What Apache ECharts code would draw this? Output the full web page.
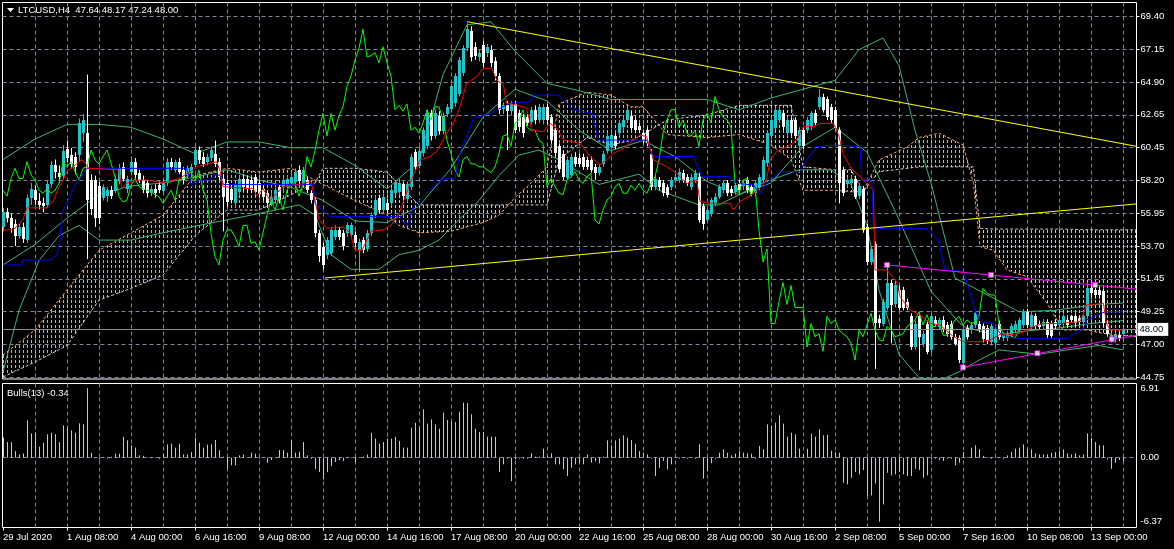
<!DOCTYPE html>
<html><head><meta charset="utf-8">
<script src="https://cdn.jsdelivr.net/npm/echarts@6/dist/echarts.min.js"></script>
<style>html,body{margin:0;padding:0;background:#000;}#c{width:1174px;height:549px;}</style>
</head><body><div id="c"></div>
<script>
// ---------------- DATA ----------------
const symbolName = 'LTCUSD,H4';
const bullsPeriod = 13;
const timeLabelBars = [0,16,32,48,64,80,96,112,128,144,160,176,192,208,224,240,256,272];
const timeLabels = ['29 Jul 2020','1 Aug 08:00','4 Aug 00:00','6 Aug 16:00','9 Aug 08:00','12 Aug 00:00','14 Aug 16:00','17 Aug 08:00','20 Aug 00:00','22 Aug 16:00','25 Aug 08:00','28 Aug 00:00','30 Aug 16:00','2 Sep 08:00','5 Sep 00:00','7 Sep 16:00','10 Sep 08:00','13 Sep 00:00'];
const priceTicks = [44.75,47.00,49.25,51.45,53.70,55.95,58.20,60.45,62.65,64.90,67.15,69.40];
const bullsTicks = [6.91,0.00,-6.37];
// [open, high, low, close] per H4 bar
const ohlc = [
[55.0,56.3,54.7,56.0],[56.0,56.3,55.3,55.6],[55.6,55.9,54.6,54.9],[55.2,55.5,53.7,54.4],[54.4,55.2,54.2,55.0],[55.0,55.3,53.9,54.2],[54.1,57.2,53.9,57.0],[57.0,58.0,56.5,57.6],[57.5,57.8,56.5,56.8],[56.8,57.3,56.2,56.5],
[56.6,57.0,56.0,56.4],[56.5,58.2,56.3,57.9],[57.9,59.5,57.7,59.2],[59.2,59.6,58.3,58.7],[58.7,59.2,58.0,58.4],[58.5,60.6,58.2,60.2],[60.3,60.9,59.4,59.7],[59.9,60.4,59.0,59.3],[59.8,60.1,58.6,59.1],[59.9,62.4,59.5,62.1],
[61.4,62.7,60.8,62.3],[61.4,65.4,52.8,56.8],[58.2,58.6,55.8,56.2],[58.2,58.5,55.0,55.6],[57.8,58.1,55.2,55.6],[57.0,57.9,56.8,57.75],[57.1,57.7,56.7,57.5],[57.5,57.8,56.9,57.1],[57.5,58.5,57.3,58.3],[58.1,59.3,57.9,59.0],
[59.1,59.4,58.1,58.3],[57.6,58.5,57.3,58.3],[58.8,59.8,58.5,59.45],[59.45,59.7,58.3,58.55],[58.7,58.9,58.0,58.2],[58.2,58.5,57.3,57.5],[58.0,58.2,57.0,57.3],[57.3,57.8,57.1,57.6],[57.6,57.9,57.0,57.3],[57.85,58.1,57.3,57.5],
[57.4,58.2,57.2,57.97],[58.0,59.7,57.8,59.45],[59.45,59.7,58.9,59.1],[58.9,59.6,58.7,59.45],[59.45,59.7,58.6,58.8],[58.9,59.1,57.9,58.2],[58.55,59.2,58.3,59.0],[58.66,59.3,58.4,59.1],[59.2,60.5,59.0,60.25],[60.25,60.5,59.3,59.57],
[59.8,60.1,59.1,59.3],[59.45,60.0,59.2,59.8],[59.7,60.5,59.5,60.25],[60.0,60.9,59.1,59.35],[59.45,59.7,58.2,58.43],[58.3,58.6,54.7,57.06],[57.97,58.2,56.4,56.7],[57.6,57.9,56.6,56.84],[56.6,58.0,56.3,57.85],[57.4,58.5,57.2,58.3],
[58.3,58.6,57.5,57.75],[58.3,58.5,57.3,57.6],[58.2,58.4,57.3,57.5],[58.4,58.6,57.1,57.4],[57.97,58.2,57.0,57.2],[57.6,57.8,56.8,57.06],[57.3,57.5,56.3,56.6],[56.6,57.3,56.4,57.06],[56.84,57.8,56.6,57.5],[57.75,57.9,56.6,56.84],
[57.75,58.4,57.5,58.2],[57.9,58.5,57.7,58.3],[58.0,58.6,57.8,58.43],[58.1,59.0,57.9,58.77],[58.88,59.2,57.9,58.1],[57.97,59.1,57.8,58.88],[58.2,58.4,57.3,57.52],[57.29,57.5,56.6,56.84],[56.84,57.0,54.3,54.56],[54.56,54.8,52.6,52.97],
[53.65,53.9,52.1,52.4],[53.1,54.3,52.8,54.1],[53.2,55.0,53.0,54.8],[54.33,55.1,54.1,54.79],[54.79,55.0,54.1,54.33],[54.56,54.8,53.4,53.65],[54.56,55.3,54.3,55.1],[54.4,55.3,54.2,55.1],[54.45,54.7,53.6,53.88],[53.42,54.2,51.9,53.99],
[54.11,54.3,53.2,53.42],[53.5,54.8,53.3,54.6],[54.6,56.0,54.4,55.8],[55.8,57.1,55.6,56.84],[56.95,57.2,55.9,56.15],[56.15,57.3,55.9,57.06],[56.61,56.9,55.9,56.15],[56.6,57.7,56.4,57.5],[57.3,58.2,57.1,57.97],[57.4,58.3,57.2,58.0],
[57.9,58.1,56.6,57.1],[56.9,58.1,56.7,57.9],[57.75,60.0,57.5,59.8],[60.1,60.3,58.9,59.1],[59.2,60.5,59.0,60.2],[60.0,61.8,59.8,61.6],[60.5,63.0,60.3,62.75],[62.75,63.0,60.9,61.2],[61.2,63.0,61.0,62.75],[62.6,62.9,61.3,61.6],
[61.6,62.8,61.3,62.6],[62.75,63.4,62.5,63.2],[63.0,64.8,62.8,64.6],[63.44,65.5,63.2,65.3],[64.1,66.6,63.9,66.4],[65.5,67.4,65.3,67.2],[67.2,68.9,67.0,68.5],[68.4,68.7,66.3,66.6],[67.3,67.6,66.4,66.7],[66.6,67.1,66.3,66.9],
[67.4,67.7,65.9,66.2],[66.9,67.5,66.6,67.3],[67.1,67.4,65.9,66.2],[66.3,66.6,65.0,65.3],[65.3,65.5,62.7,63.0],[63.0,63.5,62.7,63.3],[63.3,63.6,60.25,62.9],[62.9,63.6,62.6,63.4],[63.4,63.6,61.4,61.6],[62.75,63.0,61.5,61.8],
[62.5,62.7,61.1,61.4],[62.5,62.7,61.9,62.1],[62.2,63.2,62.0,63.0],[63.0,63.3,62.0,62.3],[62.3,63.4,62.1,63.2],[62.3,63.4,62.0,63.2],[63.2,63.4,62.0,62.3],[62.5,62.7,60.7,60.9],[61.6,61.8,59.8,60.0],[60.5,60.7,58.7,58.9],
[60.0,60.2,58.2,58.4],[58.4,59.8,58.2,59.6],[58.6,60.0,58.4,59.8],[59.8,60.1,59.1,59.3],[59.7,60.0,59.1,59.3],[59.8,60.0,58.9,59.1],[59.6,59.8,58.9,59.1],[59.6,59.8,58.7,58.9],[59.1,59.3,58.2,58.7],[58.7,59.3,58.5,59.1],
[59.3,60.2,59.1,60.0],[60.2,61.4,60.0,61.2],[60.5,61.5,60.3,61.3],[61.2,61.4,60.3,60.5],[61.4,62.3,61.2,62.1],[61.8,62.5,61.6,62.3],[62.3,63.2,62.1,63.0],[62.6,62.9,61.6,61.8],[62.3,62.5,61.4,61.6],[61.9,62.1,61.4,61.6],
[61.4,61.6,60.7,60.9],[61.6,61.8,60.5,60.7],[60.0,60.3,57.5,57.75],[57.75,58.5,57.5,58.3],[58.2,58.4,57.5,57.75],[57.97,58.2,57.1,57.3],[57.75,57.9,57.0,57.2],[57.75,58.4,57.5,58.2],[58.2,58.6,58.0,58.4],[58.2,59.0,58.0,58.77],
[58.66,58.9,58.0,58.2],[58.4,58.6,57.8,57.97],[57.75,58.6,57.5,58.43],[58.2,58.9,58.0,58.66],[58.43,58.7,55.3,55.47],[56.4,56.6,54.8,55.2],[55.47,56.3,55.3,56.15],[55.9,57.0,55.7,56.84],[56.6,57.3,56.4,57.06],[57.06,57.9,56.9,57.75],
[57.5,58.2,57.3,57.97],[57.97,58.2,57.1,57.3],[57.6,57.8,57.1,57.3],[57.4,58.0,57.2,57.85],[57.97,58.2,57.3,57.5],[57.75,58.2,57.5,57.97],[58.2,58.4,57.3,57.5],[57.75,57.9,57.1,57.3],[57.3,58.2,57.1,57.97],[57.75,58.6,57.5,58.43],
[58.2,59.8,58.0,59.57],[59.34,61.6,59.1,61.4],[61.2,62.5,61.0,62.3],[61.8,63.2,61.6,63.0],[62.3,63.3,62.1,63.0],[62.75,63.0,61.6,61.8],[61.4,62.5,61.2,62.3],[62.3,62.5,61.2,61.4],[62.3,62.5,61.0,61.2],[60.5,61.8,60.3,61.6],
[61.6,61.8,60.3,60.5],[61.6,62.5,61.4,62.3],[61.8,62.9,61.6,62.75],[62.75,63.0,61.9,62.1],[63.2,64.4,63.0,63.9],[63.9,64.1,62.8,63.0],[63.7,63.9,62.3,62.5],[63.2,63.4,62.1,62.3],[63.0,63.2,61.6,61.8],[61.6,61.8,56.6,57.97],
[58.9,59.1,57.1,57.3],[57.9,58.4,57.7,58.2],[58.0,58.5,57.8,58.3],[58.3,58.5,56.9,57.1],[57.1,58.0,56.9,57.8],[57.6,57.8,54.6,54.8],[55.0,55.2,52.4,52.6],[52.6,53.7,52.4,53.5],[53.8,54.0,45.3,48.4],[48.7,49.0,48.1,48.4],
[48.4,50.1,48.2,49.9],[49.5,52.4,49.3,51.2],[51.2,51.4,47.05,49.7],[49.7,51.3,49.5,51.0],[50.7,51.0,49.3,49.5],[50.7,50.9,49.3,49.5],[49.9,50.1,49.3,49.5],[48.9,49.1,46.6,46.8],[46.8,48.6,46.6,48.4],[48.9,49.1,45.2,47.5],
[47.0,47.9,46.8,47.7],[48.4,48.6,46.3,46.5],[46.6,49.1,46.4,48.9],[48.65,48.9,48.2,48.4],[48.2,48.8,48.0,48.65],[48.65,48.9,47.8,47.96],[48.3,48.5,47.5,47.7],[48.4,48.6,47.3,47.5],[47.5,47.7,46.9,47.05],[47.4,47.6,45.7,45.9],
[45.7,48.1,45.4,47.96],[48.1,48.3,47.3,47.5],[47.96,48.5,47.7,48.3],[48.3,49.3,48.1,49.1],[48.4,48.6,47.8,47.96],[48.2,48.4,47.1,47.3],[48.1,48.3,47.0,47.2],[47.1,48.4,46.9,48.2],[47.05,48.1,46.8,47.96],[48.4,48.6,47.3,47.5],
[47.4,47.8,47.2,47.6],[47.4,47.9,47.2,47.7],[47.6,48.4,47.4,48.2],[47.96,48.6,47.8,48.4],[47.96,48.8,47.8,48.65],[48.3,49.4,48.1,49.2],[49.2,49.4,48.1,48.3],[48.2,49.2,48.0,49.0],[48.9,49.1,48.0,48.2],[48.4,48.6,48.0,48.2],
[48.2,48.7,48.0,48.5],[48.5,48.7,47.4,47.6],[48.4,48.6,47.4,47.6],[48.5,48.7,48.0,48.2],[48.3,48.8,48.1,48.65],[48.4,49.1,48.2,48.9],[48.65,48.8,48.1,48.3],[48.9,49.0,48.5,48.65],[48.9,49.1,48.2,48.4],[48.75,48.9,48.3,48.5],
[48.5,49.0,48.3,48.9],[48.9,51.2,48.7,50.8],[50.8,51.0,50.2,50.45],[50.7,51.0,50.1,50.35],[50.7,50.9,50.1,50.35],[50.6,50.8,48.2,48.4],[48.4,48.6,47.5,47.7],[47.3,47.8,47.1,47.6],[47.3,47.8,47.1,47.6],[47.6,47.8,47.2,47.4],[47.64,48.17,47.24,48.00]
];
const bulls = [
2.0,1.56,1.56,0.66,0.33,0.43,3.72,2.43,2.49,1.1,
1.5,2.33,2.49,2.33,1.56,3.22,2.99,2.72,2.49,3.42,
3.32,6.91,0.5,0.05,-0.17,0.05,-0.1,0.1,0.4,0.4,
2.09,1.73,1.23,1.0,0.23,0.17,0.05,-0.05,0.05,-0.1,
0.4,1.33,1.4,1.0,1.4,0.33,0.33,0.56,2.0,1.5,
1.0,1.3,1.33,1.76,0.76,0.1,-1.1,-0.76,-0.76,0.23,
0.33,0.05,0.5,0.4,-0.1,0.05,-0.5,-0.23,0.05,0.76,
0.76,0.5,1.76,0.5,0.6,1.56,0.23,-0.1,-1.1,-1.43,
-2.16,-1.43,-0.83,-0.43,-0.23,-0.33,0.05,-0.05,-0.43,0.05,
0.1,0.33,2.49,1.9,1.4,1.56,1.9,1.9,2.09,1.66,
1.0,1.0,2.99,3.49,2.99,4.82,3.39,3.82,3.32,2.89,
4.49,3.75,3.65,3.55,4.58,5.48,5.42,4.32,2.89,2.56,
2.56,2.09,2.09,2.09,-1.43,-0.66,-0.1,-2.33,-0.17,-0.1,
-0.1,-0.1,0.43,0.1,0.1,0.9,0.17,0.43,-0.66,-0.66,
-1.16,-1.83,-1.0,-0.66,-0.5,-0.66,0.33,-0.5,-0.37,-0.56,
0.1,1.73,1.23,1.73,1.9,2.23,1.99,1.76,1.4,0.66,
0.5,0.33,-0.1,-1.83,-1.0,-0.33,-1.16,-0.66,0.05,-0.1,
0.05,-0.1,0.05,-0.1,1.33,-2.09,-1.33,-0.56,-0.1,0.5,
0.83,0.5,0.23,0.4,0.66,0.5,0.43,0.4,-0.1,1.16,
0.83,3.32,3.16,3.49,4.22,3.39,2.09,2.49,2.33,0.9,
0.33,0.9,2.39,2.09,2.82,2.23,2.29,0.7,0.53,0.5,
-2.49,-2.66,-2.0,-1.43,-1.66,-1.23,-3.82,-3.75,-2.56,-6.37,
-4.65,-1.5,-1.76,-1.66,-1.43,-1.66,-1.83,-1.83,-1.1,-1.23,
-2.0,-1.76,-0.17,-0.1,-0.23,-0.33,-0.1,-0.1,-0.76,-0.5,
0.56,0.05,1.0,1.23,0.83,0.17,0.05,-0.1,0.05,0.05,
-0.1,0.23,0.56,0.9,1.0,1.33,0.9,0.83,0.43,0.33,
0.33,0.33,0.5,0.56,0.66,0.83,0.43,0.33,0.43,0.23,
0.33,2.43,1.99,1.56,1.23,1.23,-0.17,-1.1,-0.5,-0.23,-0.34
];
// Ichimoku lines: [bar, price]
const tenkan = [[0,54.8],[2.6,54.8],[5,55.5],[6,56.3],[11,56.3],[12.6,56.8],[13.8,57.6],[15,58.2],[16,58.8],[18.4,59.3],[19.7,59.6],[21,59.2],[21.3,59.0],[29,58.9],[29.7,57.6],[31,58.0],[34,58.2],[36,58.2],[40,58.0],[44,58.3],[47,58.8],[48.4,59.1],[53.4,59.45],[54.3,58.8],[55,57.75],[62.6,57.6],[63.4,57.1],[65,57.6],[66.8,56.8],[70,57.75],[74,57.9],[77,58.1],[78,56.8],[79,55.5],[81,54.9],[85,55.0],[86.8,54.6],[88,53.4],[89.7,53.4],[91,54.1],[92,54.7],[95,54.8],[97,55.1],[99,55.9],[101.75,57.97],[104.25,59.57],[106.75,59.8],[108.4,60.14],[110.9,61.39],[112.6,62.07],[114.25,63.21],[115.9,64.8],[118.4,65.26],[120.1,65.83],[122.2,65.83],[123.4,65.03],[125.1,64.69],[125.9,63.44],[128.4,63.32],[130.9,63.1],[132.2,61.6],[135.1,61.5],[136.75,62.07],[138.4,61.73],[140.1,60.93],[144.25,60.71],[146.75,59.8],[149.25,59.23],[150.9,59.57],[152.6,60.02],[155.1,60.36],[159.25,61.28],[160.9,61.16],[162.6,59.57],[165.9,59.11],[168.4,58.66],[170.9,57.97],[173.4,58.2],[174.25,56.73],[176.75,56.61],[181.75,56.61],[182.6,56.15],[184.25,56.73],[187.6,57.29],[189.25,57.63],[190.9,58.2],[191.75,59.57],[193.4,60.14],[196.75,60.59],[198.4,60.93],[200.1,61.84],[202.6,61.84],[204.25,62.07],[207.6,62.07],[209,61.2],[210,60.0],[212,59.0],[214.25,58.43],[217.6,57.52],[218,52.06],[220.9,52.06],[223.4,51.26],[224.25,50.24],[226.75,49.33],[229.25,48.98],[231.75,48.41],[234.25,48.3],[237.6,47.5],[240.1,47.16],[244.25,47.16],[246.75,47.28],[249.7,47.73],[250.9,47.62],[254.25,47.73],[257.6,48.19],[260.1,48.41],[264.25,48.41],[269.25,48.53],[270.9,49.67],[275.1,49.78],[275.9,48.41],[276.75,47.96],[280,47.96]];
const kijun = [[0,52.4],[4.7,52.4],[5,52.74],[11.75,52.74],[13.4,53.08],[14.25,54.1],[14.7,55.93],[18,57.86],[21,59.0],[45.9,59.0],[47.2,57.75],[48.4,58.2],[51.75,58.2],[52.6,58.54],[54.25,58.54],[55.1,57.9],[77.6,57.9],[78,56.6],[81.75,55.7],[99.25,55.7],[100.9,55.0],[102.6,56.38],[104.25,56.84],[106.75,57.52],[110.1,58.32],[113,58.32],[114.25,60.02],[117.6,62.41],[121.75,62.75],[123.4,62.98],[126.75,63.44],[131.75,63.55],[132.6,64.0],[138.8,64.0],[140.9,63.44],[142.6,62.98],[147.2,62.75],[148.8,60.93],[160.9,60.93],[162.6,59.8],[172.6,59.8],[174.7,58.43],[181.75,58.43],[183.4,57.97],[187.6,57.86],[189.25,57.29],[190.9,57.97],[194.25,58.77],[199.25,58.77],[200.9,59.57],[203.4,60.48],[208,60.59],[214.25,60.48],[214.7,58.2],[217.2,58.2],[217.6,54.9],[230.9,54.9],[233.8,54.1],[235.5,52.06],[240.1,51.94],[241.3,50.92],[243,49.33],[244.25,48.53],[247.6,48.41],[249.25,47.73],[250.9,47.5],[253.4,47.39],[265.9,47.39],[270.1,48.07],[270.9,48.64],[274.7,49.1],[275.5,49.2],[280,49.2]];
const spanBars = [0,8,16,24,32,40,48,56,64,72,78,80,88,96,99,104,112,120,124,128,132,136,139,146,152,157,160,166,176,184,192,197,200,208,212,215,219,226,229,234,240,242.6,243.4,244.25,247.6,251,256,261,265,271,275,283.4];
const spanA = [46.25,47.96,50.7,53.4,54.6,55.8,58.5,59.0,58.75,59.0,58.2,57.9,56.8,55.8,55.1,54.6,54.7,55.3,55.8,57.0,58.0,59.1,63.4,64.2,64.0,63.2,63.2,61.3,61.1,61.3,60.6,59.6,57.5,57.5,57.4,57.4,59.57,60.45,61.1,61.4,60.6,57.97,55.93,53.65,53.4,52.06,51.6,49.78,47.96,47.96,47.73,47.5];
const spanB = [44.75,45.77,46.9,50.0,50.8,51.7,54.4,56.15,56.15,57.2,58.0,59.0,59.0,58.75,57.86,56.5,56.5,56.5,56.5,56.5,56.5,56.5,59.6,61.1,60.6,60.9,61.3,62.3,62.65,63.3,63.3,63.3,59.1,58.9,58.9,57.4,58.77,59.0,59.1,59.1,59.1,59.1,57.0,54.9,54.85,54.85,54.85,54.85,54.85,54.8,54.8,54.8];
const chikouShift = 26;
// Bollinger bands: [bar, price]
const bandUpper = [[0,59.6],[8,61.0],[16,62.0],[24,62.0],[32,61.8],[40,61.0],[48,60.0],[56,60.8],[64,60.8],[72,60.4],[80,60.4],[88,59.2],[96,57.6],[104,59.5],[110,65.4],[116,68.8],[122,69.0],[128,67.0],[136,64.8],[144,64.3],[152,63.7],[160,63.7],[168,63.7],[176,63.7],[184,63.0],[192,63.8],[200,64.4],[208,65.0],[214,67.1],[220,67.9],[224,66.0],[228,61.6],[232,58.0],[238,51.5],[243,50.8],[254,49.2],[263,49.3],[273,49.7],[280,49.8]];
const bandMid = [[0,52.4],[8,53.8],[16,55.6],[24,57.2],[32,57.8],[40,58.0],[48,58.4],[56,58.9],[64,58.2],[72,57.7],[80,56.8],[88,55.4],[96,55.3],[104,56.4],[112,59.0],[120,62.5],[128,64.4],[136,63.6],[144,61.6],[152,60.2],[160,60.9],[168,59.8],[176,58.1],[184,57.2],[192,58.0],[200,60.5],[208,61.8],[216,60.1],[224,55.5],[232,50.6],[240,48.2],[248,47.6],[256,47.9],[264,48.1],[272,48.4],[280,48.6]];
const bandLower = [[0,45.1],[4,49.3],[9,52.7],[14,54.4],[19,55.1],[24,54.1],[32,54.1],[40,54.6],[49,55.1],[62,55.8],[74,56.5],[78,55.8],[82,53.1],[87,52.1],[94,52.1],[99,53.1],[104,53.4],[109,54.1],[114,55.5],[119,56.8],[124,58.5],[129,59.9],[134,60.25],[139,59.57],[149,57.9],[159,58.6],[164,57.5],[174,56.5],[179,56.5],[189,57.9],[199,58.9],[207,58.9],[212,57.9],[216,55.1],[219,50.7],[224,46.3],[229,44.7],[234,44.5],[239,45.1],[244,45.9],[249,46.6],[259,46.3],[266,46.6],[274,46.9],[280,46.6]];
// hand-drawn objects
const yellowLines = [[[116,69.01],[283.375,60.5]],[[80.5,51.51],[283.375,56.57]]];
const magentaLines = [[[221,52.4],[283.375,50.75]],[[240,45.41],[283.375,47.6]]];
const magentaAnchors = [[221,52.4],[247,51.72],[273,51.03],[240,45.41],[258.6,46.37],[277.2,47.32]];

// ---------------- CHART ----------------
const FONT = 'Liberation Sans';
const GRIDC = '#778899';
const CYAN = '#22c3c9';
const SANDY = '#f4a460', THISTLE = '#d8bfd8';
const X_MIN = -0.125, X_MAX = 283.375;
const gridBars = []; for (let b = 8; b <= 280; b += 8) gridBars.push(b);
const last = ohlc[ohlc.length - 1];
const header = symbolName + '  ' + last.map(v => v.toFixed(2)).join(' ');
const closes = ohlc.map(r => r[3]);
const chikou = closes.slice(chikouShift).map((c, k) => [k, c]);

const chart = echarts.init(document.getElementById('c'), null, { renderer: 'canvas' });
const lineS = (data, color, z, extra) => Object.assign({
  type: 'line', data, xAxisIndex: 0, yAxisIndex: 0, showSymbol: false, silent: true, z,
  lineStyle: { color, width: 1 }, clip: true, animation: false
}, extra || {});

// cloud: one dotted vertical stroke per bar column between the two span outlines
function cloudRender(params, api) {
  const ch = [];
  const lastBar = Math.floor(spanBars[spanBars.length - 1]);
  let k = 0;
  for (let b = 0; b <= lastBar; b++) {
    while (k < spanBars.length - 2 && spanBars[k + 1] < b) k++;
    const i0 = spanBars[k], i1 = spanBars[k + 1];
    const t = Math.min(1, Math.max(0, (b - i0) / (i1 - i0)));
    const a = spanA[k] + (spanA[k + 1] - spanA[k]) * t;
    const bb = spanB[k] + (spanB[k + 1] - spanB[k]) * t;
    const pA = api.coord([b, a]), pB = api.coord([b, bb]);
    const x = Math.round(pA[0]) + 0.5;
    const top = Math.round(Math.min(pA[1], pB[1])), bot = Math.round(Math.max(pA[1], pB[1]));
    if (bot - top < 1) continue;
    ch.push({ type: 'line', shape: { x1: x, y1: top, x2: x, y2: bot },
      style: { stroke: a >= bb ? SANDY : THISTLE, lineWidth: 1, lineDash: [3, 2], lineDashOffset: top % 5 } });
  }
  return { type: 'group', children: ch };
}

const series = [
  { type: 'custom', xAxisIndex: 0, yAxisIndex: 0, z: 1, silent: true, clip: true, data: [[0, 50]], renderItem: cloudRender },
  lineS(spanBars.map((b, k) => [b, spanA[k]]), SANDY, 2, { lineStyle: { color: SANDY, width: 1, type: [3, 2] } }),
  lineS(spanBars.map((b, k) => [b, spanB[k]]), THISTLE, 2, { lineStyle: { color: THISTLE, width: 1, type: [3, 2] } }),
  lineS(bandUpper, '#3cb371', 3),
  lineS(bandMid, '#3cb371', 3),
  lineS(bandLower, '#3cb371', 3),
  { type: 'custom', xAxisIndex: 0, yAxisIndex: 0, z: 4, silent: true, clip: true,
    data: ohlc.map((r, i) => [i, r[0], r[1], r[2], r[3]]),
    encode: { x: 0, y: [1, 2, 3, 4] },
    renderItem(params, api) {
      const i = api.value(0), o = api.value(1), h = api.value(2), l = api.value(3), c = api.value(4);
      const col = c >= o ? CYAN : '#ffffff';
      const x = Math.round(api.coord([i, o])[0]);
      const yO = api.coord([i, o])[1], yC = api.coord([i, c])[1], yH = api.coord([i, h])[1], yL = api.coord([i, l])[1];
      const top = Math.min(yO, yC), bot = Math.max(yO, yC);
      return { type: 'group', children: [
        { type: 'line', shape: { x1: x + 0.5, y1: yH, x2: x + 0.5, y2: yL }, style: { stroke: col, lineWidth: 1 } },
        { type: 'rect', shape: { x: x - 1, y: Math.round(top), width: 3, height: Math.max(1, Math.round(bot - top)) }, style: { fill: col } }
      ] };
    } },
  lineS(chikou, '#00ff00', 5),
  lineS(kijun, '#0000ff', 6),
  lineS(tenkan, '#ff0000', 7, {
    markLine: { silent: true, symbol: ['none', 'none'], animation: false,
      data: [{ yAxis: last[3] }],
      lineStyle: { color: '#8c8c8c', width: 1, type: 'solid' },
      label: { show: true, position: 'end', formatter: last[3].toFixed(2), color: '#000', backgroundColor: '#fff',
        padding: [2, 5, 1, 2], fontSize: 9.5, fontFamily: FONT, distance: 1 } } }),
  lineS(yellowLines[0], '#ffff00', 8),
  lineS(yellowLines[1], '#ffff00', 8),
  lineS(magentaLines[0], '#ff00ff', 8),
  lineS(magentaLines[1], '#ff00ff', 8),
  { type: 'scatter', xAxisIndex: 0, yAxisIndex: 0, z: 9, silent: true, data: magentaAnchors, symbol: 'rect', symbolSize: 5,
    itemStyle: { color: '#ffffff', borderColor: '#ff00ff', borderWidth: 1 }, animation: false },
  { type: 'custom', xAxisIndex: 1, yAxisIndex: 1, z: 3, silent: true, clip: true,
    data: bulls.map((v, i) => [i, v]),
    renderItem(params, api) {
      const i = api.value(0), v = api.value(1);
      const p0 = api.coord([i, 0]), p1 = api.coord([i, v]);
      const x = Math.round(p0[0]) + 0.5;
      return { type: 'line', shape: { x1: x, y1: p0[1], x2: x, y2: p1[1] }, style: { stroke: '#c8c8c8', lineWidth: 1 } };
    } }
];

const splitDash = { show: true, lineStyle: { color: GRIDC, width: 1, type: [4, 3] } };
const option = {
  backgroundColor: '#000', animation: false,
  grid: [
    { left: 2.5, top: 2.5, width: 1134, height: 376.5, show: true, borderColor: '#ffffff', borderWidth: 1, backgroundColor: 'transparent', containLabel: false, outerBoundsMode: 'none' },
    { left: 2.5, top: 383.5, width: 1134, height: 144, show: true, borderColor: '#ffffff', borderWidth: 1, backgroundColor: 'transparent', containLabel: false, outerBoundsMode: 'none' }
  ],
  xAxis: [
    { gridIndex: 0, type: 'value', min: X_MIN, max: X_MAX, axisLine: { show: false }, axisTick: { show: false, customValues: gridBars }, axisLabel: { show: false }, splitLine: splitDash },
    { gridIndex: 1, type: 'value', min: X_MIN, max: X_MAX, axisLine: { show: false }, axisTick: { show: false, customValues: gridBars },
      axisLabel: { show: true, customValues: timeLabelBars, formatter: v => timeLabels[timeLabelBars.indexOf(Math.round(v))] || '', color: '#ffffff', fontSize: 9.5, fontFamily: FONT, align: 'left', margin: 5 },
      splitLine: splitDash },
    { gridIndex: 1, type: 'value', min: X_MIN, max: X_MAX, position: 'bottom', axisLine: { show: false },
      axisTick: { show: true, inside: false, length: 3, customValues: timeLabelBars, lineStyle: { color: '#ffffff', width: 1 } },
      axisLabel: { show: false }, splitLine: { show: false } }
  ],
  yAxis: [
    { gridIndex: 0, type: 'value', position: 'right', min: 44.613, max: 70.322, axisLine: { show: false }, axisTick: { show: false, customValues: priceTicks },
      axisLabel: { show: true, customValues: priceTicks, formatter: v => v.toFixed(2), color: '#ffffff', fontSize: 9.5, fontFamily: FONT, margin: 4 }, splitLine: splitDash },
    { gridIndex: 1, type: 'value', position: 'right', min: -6.945, max: 7.383, axisLine: { show: false }, axisTick: { show: false, customValues: [0] },
      axisLabel: { show: true, customValues: bullsTicks, formatter: v => v.toFixed(2), color: '#ffffff', fontSize: 9.5, fontFamily: FONT, margin: 4 }, splitLine: splitDash },
    { gridIndex: 0, type: 'value', position: 'right', min: 44.613, max: 70.322, axisLine: { show: false }, axisLabel: { show: false }, splitLine: { show: false },
      axisTick: { show: true, inside: false, length: 3, customValues: priceTicks, lineStyle: { color: '#ffffff', width: 1 } } }
  ],
  graphic: [
    { type: 'polygon', silent: true, shape: { points: [[7, 8], [14, 8], [10.5, 12]] }, style: { fill: '#ffffff' } },
    { type: 'text', silent: true, x: 18, y: 10, style: { text: header, fill: '#ffffff', font: '9.5px "Liberation Sans"', verticalAlign: 'middle' } },
    { type: 'text', silent: true, x: 7, y: 393, style: { text: 'Bulls(' + bullsPeriod + ') ' + bulls[bulls.length - 1].toFixed(2), fill: '#ffffff', font: '9.5px "Liberation Sans"', verticalAlign: 'middle' } }
  ],
  series
};
chart.setOption(option);
</script>
</body></html>
